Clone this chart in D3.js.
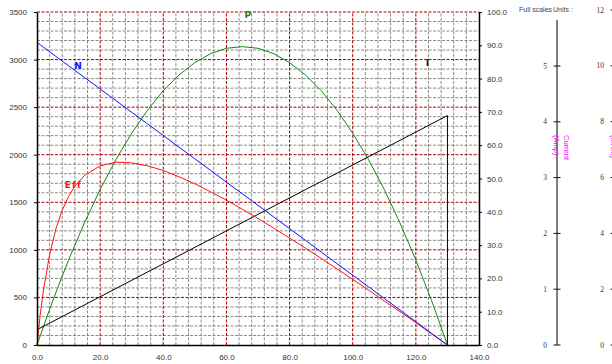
<!DOCTYPE html>
<html>
<head>
<meta charset="utf-8">
<script src="https://cdn.jsdelivr.net/npm/d3@7"></script>
<style>
  body { margin: 0; background: #fff; }
  svg { display: block; font-family: 'DejaVu Sans', sans-serif; }
  .tick text { fill: #333; font-size: 8px; }
</style>
</head>
<body>
<svg></svg>
<script>
  // torque values shared by N, P and Eff
  const torque = [0, 1, 2, 4, 6, 8, 10, 12, 15, 20, 25, 30, 35, 40, 45, 50, 55, 60, 65, 70, 75, 80, 85, 90, 95, 100, 105, 110, 115, 120, 125, 130];
  const speed = [3180, 3156, 3131, 3082, 3033, 2984, 2935, 2886, 2813, 2691, 2569, 2446, 2324, 2202, 2079, 1957, 1835, 1712, 1590, 1468, 1345, 1223, 1101, 978, 856, 734, 612, 489, 367, 245, 122, 0];
  const power = [0, 2.7, 5.4, 10.7, 15.8, 20.7, 25.5, 30.0, 36.6, 46.7, 55.7, 63.6, 70.5, 76.4, 81.1, 84.8, 87.5, 89.1, 89.6, 89.1, 87.5, 84.8, 81.1, 76.4, 70.5, 63.6, 55.7, 46.7, 36.6, 25.5, 13.3, 0];
  const eff = [0, 9.0, 16.2, 27.2, 34.9, 40.5, 44.6, 47.7, 50.9, 53.8, 54.9, 54.7, 53.8, 52.4, 50.5, 48.4, 46.0, 43.5, 40.8, 38.0, 35.1, 32.1, 29.1, 26.0, 22.9, 19.7, 16.5, 13.2, 10.0, 6.7, 3.3, 0];
  const currentTorque = [0, 130, 130];
  const current = [4.6, 68.9, 0];

  const xTicks = [0, 20, 40, 60, 80, 100, 120, 140];
  const leftTicks = [0, 500, 1000, 1500, 2000, 2500, 3000, 3500];
  const rightTicks = [0, 10, 20, 30, 40, 50, 60, 70, 80, 90, 100];
  const currentTicks = [0, 1, 2, 3, 4, 5];
  const torqueTicks = [0, 2, 4, 6, 8, 10, 12];

  // curve labels, placed in data units
  const curveLabels = [
    { name: 'N', t: 13, v: 2932, axis: 'left', color: '#1010ff' },
    { name: 'Eff', t: 11.5, v: 48, axis: 'right', color: '#ff1010' },
    { name: 'P', t: 66.8, v: 99.2, axis: 'right', color: '#108a10' },
    { name: 'I', t: 123.7, v: 84.8, axis: 'right', color: '#222' }
  ];

  const width = 612;
  const height = 364;
  const margin = { top: 12, right: 133, bottom: 19, left: 37 };

  const svg = d3.select('svg')
      .attr('width', width)
      .attr('height', height);

  const x = d3.scaleLinear().domain([0, 140]).range([margin.left, width - margin.right]);
  const yL = d3.scaleLinear().domain([0, 3500]).range([height - margin.bottom, margin.top]);
  const yR = d3.scaleLinear().domain([0, 100]).range([height - margin.bottom, margin.top]);

  const g = svg.append('g');

  // minor grid
  const minorX = d3.range(0, 141, 4).filter(d => d % 20 !== 0);
  const minorY = d3.range(0, 3501, 100).filter(d => d % 500 !== 0);
  g.selectAll('.minx').data(minorX).enter().append('line')
      .attr('x1', d => x(d)).attr('x2', d => x(d))
      .attr('y1', yL(0)).attr('y2', yL(3500))
      .attr('stroke', '#8a8a8a').attr('stroke-dasharray', '3,1.5');
  g.selectAll('.miny').data(minorY).enter().append('line')
      .attr('x1', x(0)).attr('x2', x(140))
      .attr('y1', d => yL(d)).attr('y2', d => yL(d))
      .attr('stroke', '#8a8a8a').attr('stroke-dasharray', '3,1.5');

  // major grid
  g.selectAll('.majx').data(xTicks.slice(1, -1)).enter().append('line')
      .attr('x1', d => x(d)).attr('x2', d => x(d))
      .attr('y1', yL(0)).attr('y2', yL(3500))
      .attr('stroke', '#a00000').attr('stroke-dasharray', '3,1.5');
  g.selectAll('.majy').data(leftTicks.slice(1)).enter().append('line')
      .attr('x1', x(0)).attr('x2', x(140))
      .attr('y1', d => yL(d)).attr('y2', d => yL(d))
      .attr('stroke', '#a00000').attr('stroke-dasharray', '3,1.5');

  // axes
  const axisStyle = sel => {
    sel.select('.domain').attr('stroke', '#000').attr('stroke-width', 1.5);
    sel.selectAll('.tick line').attr('stroke', '#000');
  };

  svg.append('g')
      .attr('transform', `translate(${x(0)},0)`)
      .call(d3.axisLeft(yL).tickValues(leftTicks).tickFormat(d3.format('d')).tickSize(3).tickSizeOuter(0).tickPadding(7))
      .call(axisStyle);

  svg.append('g')
      .attr('transform', `translate(0,${yL(0)})`)
      .call(d3.axisBottom(x).tickValues(xTicks).tickFormat(d3.format('.1f')).tickSize(0).tickSizeOuter(0).tickPadding(9))
      .call(axisStyle);

  svg.append('g')
      .attr('transform', `translate(${x(140)},0)`)
      .call(d3.axisRight(yR).tickValues(rightTicks).tickFormat(d3.format('.1f')).tickSize(3).tickSizeOuter(0).tickPadding(5))
      .call(axisStyle);

  // curves
  const lineL = d3.line().x((d, i) => x(torque[i])).y(d => yL(d));
  const lineR = d3.line().x((d, i) => x(torque[i])).y(d => yR(d));
  const lineI = d3.line().x((d, i) => x(currentTorque[i])).y(d => yR(d));

  g.append('path').attr('d', lineR(power)).attr('fill', 'none').attr('stroke', '#108a10');
  g.append('path').attr('d', lineI(current)).attr('fill', 'none').attr('stroke', '#000');
  g.append('path').attr('d', lineR(eff)).attr('fill', 'none').attr('stroke', '#ff1010');
  g.append('path').attr('d', lineL(speed)).attr('fill', 'none').attr('stroke', '#1010ff');

  svg.selectAll('.clabel').data(curveLabels).enter().append('text')
      .attr('x', d => x(d.t))
      .attr('y', d => d.axis === 'left' ? yL(d.v) : yR(d.v))
      .attr('dy', '0.35em')
      .attr('text-anchor', 'middle')
      .attr('font-size', 9)
      .attr('font-weight', 'bold')
      .attr('letter-spacing', d => d.name === 'Eff' ? 1 : 0)
      .attr('fill', d => d.color)
      .text(d => d.name);

  // full scale axes
  svg.append('text').attr('x', 519).attr('y', 12)
      .attr('font-family', 'Liberation Sans, Arial, sans-serif')
      .attr('font-size', 7).attr('fill', '#444').text('Full scales');
  svg.append('text').attr('x', 553).attr('y', 12)
      .attr('font-family', 'Liberation Sans, Arial, sans-serif')
      .attr('font-size', 7).attr('fill', '#444').text('Units :');

  const scaleAxis = (cx, scale, ticks, top, title, unit) => {
    const a = svg.append('g');
    a.append('line')
        .attr('x1', cx).attr('x2', cx)
        .attr('y1', scale(0)).attr('y2', top)
        .attr('stroke', '#808080').attr('stroke-width', 2);
    a.selectAll('.st').data(ticks).enter().append('line')
        .attr('x1', cx - 3.5).attr('x2', cx + 3.5)
        .attr('y1', d => scale(d)).attr('y2', d => scale(d))
        .attr('stroke', '#111');
    a.selectAll('.sl').data(ticks).enter().append('text')
        .attr('x', cx - 10).attr('y', d => scale(d))
        .attr('dy', '0.35em')
        .attr('text-anchor', 'end')
        .attr('font-family', 'Liberation Serif, Times New Roman, serif')
        .attr('font-size', 7.5).attr('fill', '#333')
        .text(d => d);
    const lbl = a.append('text')
        .attr('transform', `translate(${cx + 7},135) rotate(90)`)
        .attr('font-family', 'Liberation Sans, Arial, sans-serif')
        .attr('font-size', 7.5).attr('fill', '#ff00ff');
    lbl.append('tspan').attr('x', 0).attr('y', 0).text(title);
    lbl.append('tspan').attr('x', 0).attr('y', 10.5).text(unit);
  };

  const yC = d3.scaleLinear().domain([0, 5]).range([yL(0), 66]);
  const yT = d3.scaleLinear().domain([0, 12]).range([yL(0), 10]);
  scaleAxis(557, yC, currentTicks, 20, 'Current', '(Amp)');
  scaleAxis(614, yT, torqueTicks, 10, 'Torque', '(mNm)');
</script>
</body>
</html>
